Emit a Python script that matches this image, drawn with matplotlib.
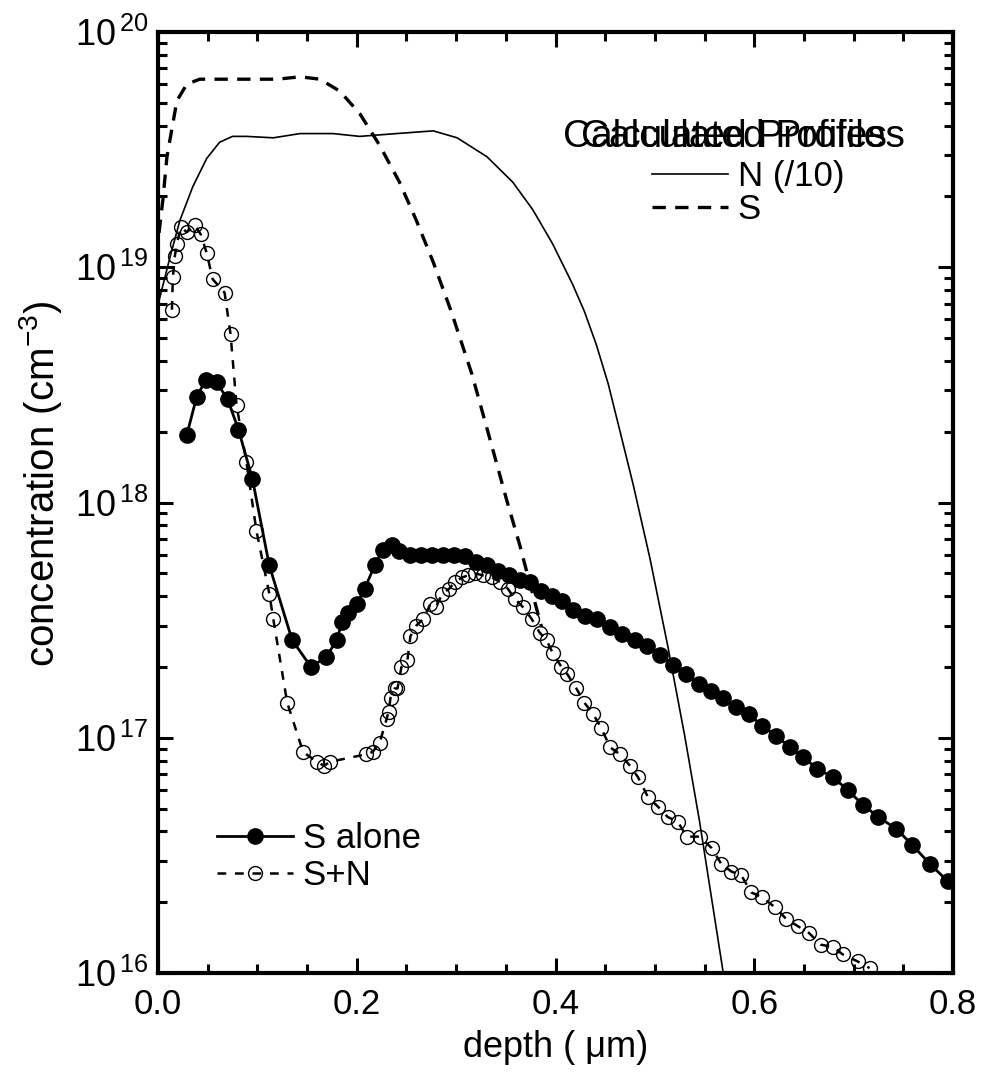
import numpy as np
import matplotlib
matplotlib.use("Agg")
import matplotlib.pyplot as plt
from matplotlib.ticker import MultipleLocator, LogLocator, NullFormatter, FixedLocator, FixedFormatter

plt.rcParams['font.family'] = ['Liberation Sans', 'DejaVu Sans']
plt.rcParams['mathtext.fontset'] = 'custom'
plt.rcParams['mathtext.rm'] = 'Liberation Sans'
plt.rcParams['mathtext.it'] = 'Liberation Sans:italic'

# measured profile, S implanted alone (filled circles)
s_alone_x = [0.029, 0.039, 0.048, 0.059, 0.070, 0.081, 0.095, 0.112, 0.135, 0.154,
             0.169, 0.180, 0.185, 0.191, 0.200, 0.208, 0.218, 0.226, 0.235, 0.243,
             0.254, 0.265, 0.276, 0.287, 0.298, 0.309, 0.320, 0.331, 0.342, 0.353,
             0.364, 0.374, 0.385, 0.396, 0.407, 0.418, 0.430, 0.442, 0.455, 0.467,
             0.480, 0.492, 0.505, 0.518, 0.531, 0.544, 0.556, 0.569, 0.582, 0.595,
             0.608, 0.622, 0.636, 0.649, 0.663, 0.679, 0.694, 0.709, 0.725, 0.743,
             0.759, 0.777, 0.795]
s_alone_c = [1.94e18, 2.82e18, 3.31e18, 3.24e18, 2.75e18, 2.04e18, 1.26e18, 5.4e17, 2.6e17, 2.0e17,
             2.2e17, 2.6e17, 3.1e17, 3.4e17, 3.7e17, 4.3e17, 5.4e17, 6.3e17, 6.6e17, 6.2e17,
             6.0e17, 6.0e17, 6.0e17, 6.0e17, 6.0e17, 5.9e17, 5.6e17, 5.4e17, 5.1e17, 4.9e17,
             4.7e17, 4.6e17, 4.2e17, 4.0e17, 3.8e17, 3.5e17, 3.3e17, 3.2e17, 2.95e17, 2.75e17,
             2.6e17, 2.45e17, 2.24e17, 2.04e17, 1.86e17, 1.70e17, 1.58e17, 1.48e17, 1.35e17, 1.26e17,
             1.12e17, 1.02e17, 9.1e16, 8.3e16, 7.4e16, 6.8e16, 6.0e16, 5.2e16, 4.6e16, 4.1e16,
             3.5e16, 2.9e16, 2.45e16]

# measured profile, S + N co-implant (open circles)
s_n_x = [0.014, 0.015, 0.017, 0.019, 0.023, 0.029, 0.037, 0.043, 0.049, 0.055,
         0.067, 0.073, 0.079, 0.089, 0.099, 0.112, 0.116, 0.130, 0.146, 0.160,
         0.167, 0.173, 0.209, 0.216, 0.223, 0.230, 0.232, 0.234, 0.238, 0.241,
         0.245, 0.251, 0.254, 0.260, 0.267, 0.274, 0.280, 0.286, 0.293, 0.299,
         0.306, 0.312, 0.319, 0.327, 0.336, 0.344, 0.352, 0.359, 0.367, 0.376,
         0.384, 0.391, 0.397, 0.406, 0.412, 0.421, 0.429, 0.438, 0.446, 0.455,
         0.465, 0.475, 0.483, 0.493, 0.503, 0.513, 0.523, 0.532, 0.545, 0.557,
         0.567, 0.577, 0.587, 0.597, 0.608, 0.621, 0.632, 0.644, 0.655, 0.667,
         0.679, 0.689, 0.704, 0.716]
s_n_c = [6.6e18, 9.1e18, 1.12e19, 1.26e19, 1.48e19, 1.41e19, 1.51e19, 1.38e19, 1.15e19, 8.9e18,
         7.8e18, 5.2e18, 2.6e18, 1.48e18, 7.6e17, 4.1e17, 3.2e17, 1.41e17, 8.7e16, 7.9e16,
         7.6e16, 7.9e16, 8.5e16, 8.7e16, 9.5e16, 1.2e17, 1.29e17, 1.48e17, 1.62e17, 1.62e17,
         2.0e17, 2.14e17, 2.7e17, 3.0e17, 3.2e17, 3.7e17, 3.6e17, 4.1e17, 4.3e17, 4.6e17,
         4.8e17, 4.9e17, 5.0e17, 4.9e17, 4.8e17, 4.6e17, 4.3e17, 3.9e17, 3.6e17, 3.2e17,
         2.8e17, 2.6e17, 2.3e17, 2.0e17, 1.86e17, 1.62e17, 1.41e17, 1.26e17, 1.10e17, 9.1e16,
         8.5e16, 7.6e16, 6.8e16, 5.6e16, 5.1e16, 4.6e16, 4.4e16, 3.8e16, 3.8e16, 3.4e16,
         2.9e16, 2.7e16, 2.6e16, 2.2e16, 2.1e16, 1.9e16, 1.7e16, 1.58e16, 1.48e16, 1.32e16,
         1.29e16, 1.2e16, 1.12e16, 1.05e16]

# calculated profiles
calc_n_x = [0.001, 0.012, 0.022, 0.035, 0.049, 0.062, 0.075, 0.089, 0.116, 0.143,
            0.176, 0.203, 0.240, 0.277, 0.301, 0.331, 0.357, 0.377, 0.397, 0.417,
            0.429, 0.441, 0.453, 0.465, 0.478, 0.495, 0.513, 0.530, 0.545, 0.567, 0.575]
calc_n_c = [7.2e18, 1.10e19, 1.58e19, 2.2e19, 2.9e19, 3.4e19, 3.6e19, 3.6e19, 3.55e19, 3.7e19,
            3.7e19, 3.6e19, 3.7e19, 3.8e19, 3.55e19, 2.95e19, 2.3e19, 1.76e19, 1.26e19, 8.5e18,
            6.5e18, 4.7e18, 3.2e18, 2.0e18, 1.2e18, 5.8e17, 2.45e17, 1.02e17, 4.4e16, 1.12e16, 6.8e15]

calc_s_x = [0.001, 0.005, 0.009, 0.019, 0.029, 0.042, 0.080, 0.120, 0.143, 0.163,
            0.183, 0.203, 0.223, 0.243, 0.260, 0.277, 0.295, 0.316, 0.334, 0.351,
            0.364, 0.372, 0.379, 0.386]
calc_s_c = [1.4e19, 1.95e19, 2.95e19, 5.1e19, 6.0e19, 6.3e19, 6.3e19, 6.3e19, 6.45e19, 6.3e19,
            5.6e19, 4.5e19, 3.3e19, 2.3e19, 1.58e19, 1.05e19, 6.5e18, 3.5e18, 1.86e18, 1.02e18,
            6.6e17, 4.9e17, 3.8e17, 2.95e17]

W, H = 984, 1086
fig = plt.figure(figsize=(W / 100, H / 100), dpi=100)
ax = fig.add_axes([158 / W, 113 / H, 795 / W, 941 / H])

ln_n, = ax.plot(calc_n_x, calc_n_c, '-', color='k', lw=1.2)
ln_s, = ax.plot(calc_s_x, calc_s_c, color='k', lw=2.4, dashes=(4, 2.8))
ln_sn, = ax.plot(s_n_x, s_n_c, color='k', lw=1.8, dashes=(3.5, 3.5),
                 marker='o', mfc='none', mec='k', ms=10, mew=1.0)
ln_sa, = ax.plot(s_alone_x, s_alone_c, '-', color='k', lw=2.0,
                 marker='o', mfc='k', mec='k', ms=11)

ax.set_yscale('log')
ax.set_xlim(0, 0.8)
ax.set_ylim(1e16, 1e20)

ax.xaxis.set_major_locator(MultipleLocator(0.2))
ax.xaxis.set_minor_locator(MultipleLocator(0.05))
ax.xaxis.set_major_formatter(plt.FuncFormatter(lambda v, p: f"{v:.1f}"))
ax.yaxis.set_major_locator(FixedLocator([1e16, 1e17, 1e18, 1e19, 1e20]))
ax.yaxis.set_major_formatter(FixedFormatter([r'$10^{\,16}$', r'$10^{\,17}$', r'$10^{\,18}$',
                                             r'$10^{\,19}$', r'$10^{\,20}$']))
ax.yaxis.set_minor_locator(LogLocator(base=10, subs=np.arange(2, 10), numticks=20))
ax.yaxis.set_minor_formatter(NullFormatter())

ax.tick_params(which='both', direction='in', top=True, right=True, width=2.2)
ax.tick_params(which='major', length=10.5)
ax.tick_params(which='minor', length=6.5)
ax.tick_params(axis='x', which='major', pad=11, labelsize=25)
ax.tick_params(axis='y', which='major', pad=7, labelsize=26)
for sp in ax.spines.values():
    sp.set_linewidth(3)

ax.set_xlabel('depth ( μm)', fontsize=26, labelpad=6)
ax.set_ylabel(r'concentration (cm$^{-3}$)', fontsize=29)
ax.yaxis.set_label_coords(-0.118, 0.52)

# legends
leg1 = ax.legend([ln_sa, ln_sn], ['S alone', 'S+N'], loc='upper left',
                 bbox_to_anchor=(217 / W, 1 - 822 / H), bbox_transform=fig.transFigure,
                 frameon=False, fontsize=25, handlelength=2.2, handletextpad=0.27,
                 labelspacing=0.12, borderpad=0, borderaxespad=0, numpoints=1)
ax.add_artist(leg1)
leg2 = ax.legend([ln_n, ln_s], ['N (/10)', 'S'], loc='upper left',
                 bbox_to_anchor=(652 / W, 1 - 160 / H), bbox_transform=fig.transFigure,
                 frameon=False, fontsize=25, handlelength=2.2, handletextpad=0.27,
                 labelspacing=0.0, borderpad=0, borderaxespad=0)

# title of the calculated-profile legend (overprinted in the original)
fig.text(563 / W, 1 - 147 / H, 'Calculated Profiles', fontsize=28, va='baseline', ha='left')
fig.text(905 / W, 1 - 147 / H, 'Calculated Profiles', fontsize=28, va='baseline', ha='right')

fig.savefig('out.png', dpi=100)
